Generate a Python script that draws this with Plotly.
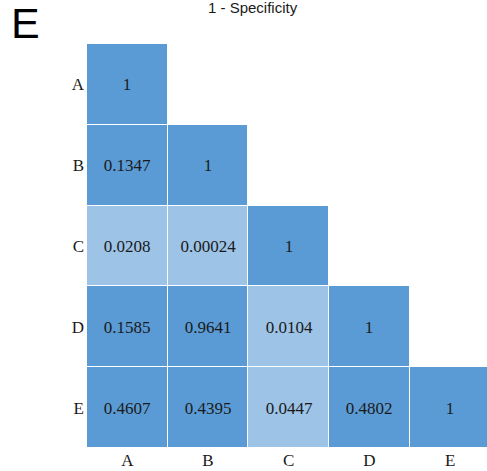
import plotly.graph_objects as go

# Pairwise p-values between the five curves (lower triangle, row vs column)
labels = ["A", "B", "C", "D", "E"]
row_A = [1]
row_B = [0.1347, 1]
row_C = [0.0208, 0.00024, 1]
row_D = [0.1585, 0.9641, 0.0104, 1]
row_E = [0.4607, 0.4395, 0.0447, 0.4802, 1]
rows = [row_A, row_B, row_C, row_D, row_E]
alpha = 0.05

n = len(labels)
z, text = [], []
for r in rows:
    zr = [(1 if v >= alpha else 0) for v in r] + [None] * (n - len(r))
    tr = [f"{v:g}" for v in r] + [""] * (n - len(r))
    z.append(zr)
    text.append(tr)

DARK = "#5b9bd5"
LIGHT = "#9dc3e6"
SERIF = "Liberation Serif"

fig = go.Figure(
    go.Heatmap(
        z=z,
        x=list(range(n)),
        y=list(range(n)),
        text=text,
        texttemplate="%{text}",
        textfont=dict(family=SERIF, size=17, color="#1a1a1a"),
        colorscale=[[0, LIGHT], [0.5, LIGHT], [0.5, DARK], [1, DARK]],
        zmin=0,
        zmax=1,
        showscale=False,
        xgap=1,
        ygap=1,
        hoverinfo="skip",
    )
)

fig.update_layout(
    width=487,
    height=471,
    margin=dict(l=87, r=0, t=44, b=23),
    paper_bgcolor="white",
    plot_bgcolor="white",
    xaxis=dict(
        range=[-0.5, 4.457],
        tickmode="array",
        tickvals=list(range(n)),
        ticktext=labels,
        showgrid=False,
        zeroline=False,
        ticks="",
        tickfont=dict(family=SERIF, size=17, color="#1a1a1a"),
    ),
    yaxis=dict(
        range=[n - 0.5, -0.5],
        tickmode="array",
        tickvals=list(range(n)),
        ticktext=labels,
        showgrid=False,
        zeroline=False,
        ticks="",
        ticklabelstandoff=2,
        tickfont=dict(family=SERIF, size=17, color="#1a1a1a"),
    ),
    annotations=[
        dict(
            text="E",
            xref="paper", yref="paper",
            x=-0.195, y=1.053,
            xanchor="left", yanchor="middle",
            showarrow=False,
            font=dict(family="Liberation Sans", size=43, color="black"),
        ),
        dict(
            text="1 - Specificity",
            xref="paper", yref="paper",
            x=(253 - 87) / 400, y=1.0,
            xanchor="center", yanchor="bottom",
            yshift=26,
            showarrow=False,
            font=dict(family="Liberation Sans", size=15, color="#1a1a1a"),
        ),
    ],
)

fig.write_html("out.html")
